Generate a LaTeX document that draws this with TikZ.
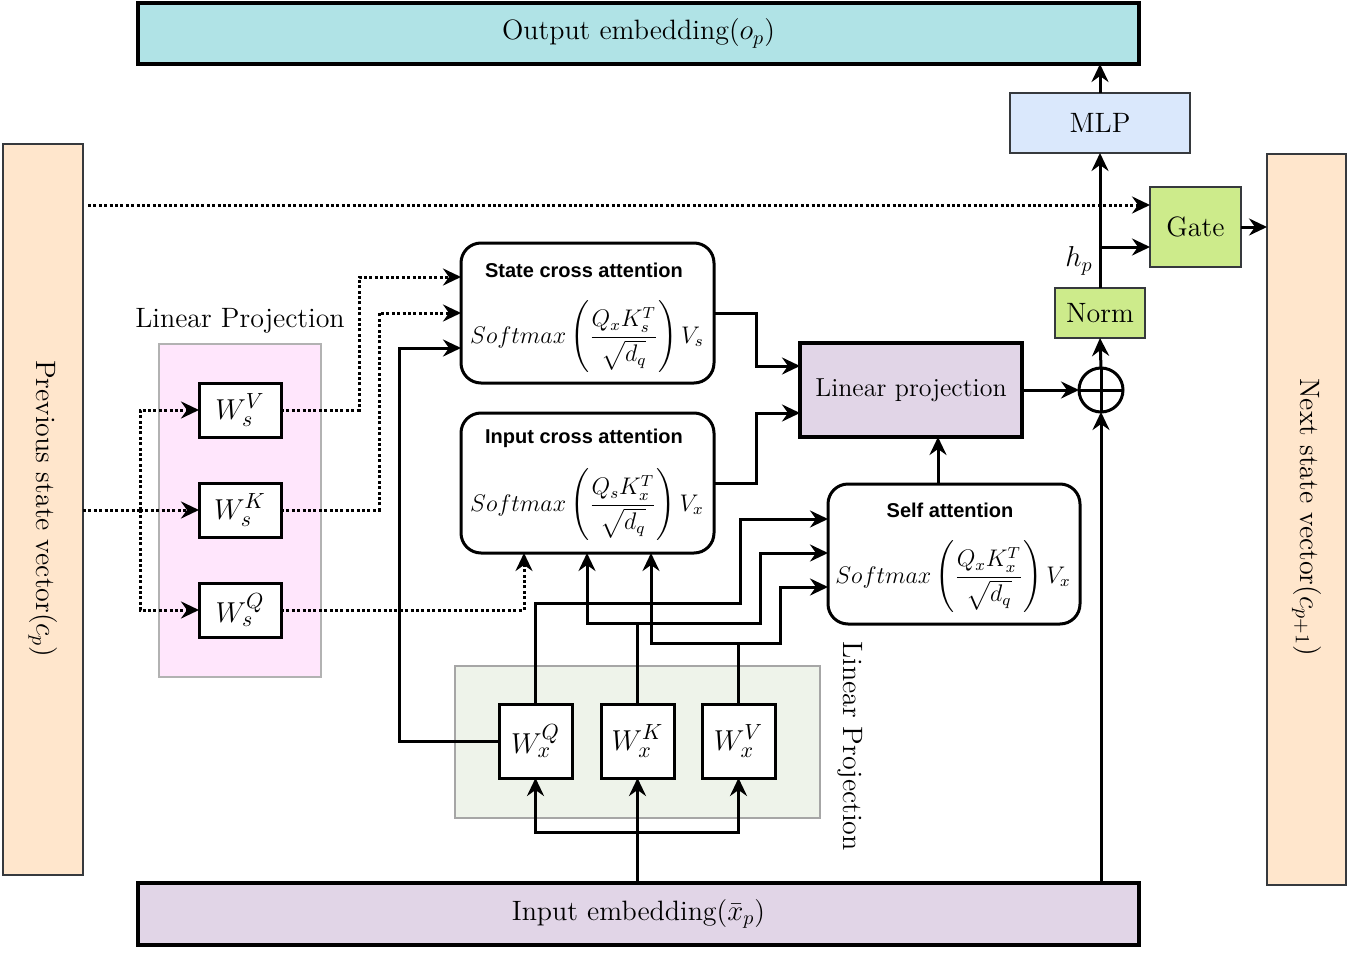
\documentclass[tikz,border=0pt]{standalone}
\usepackage{fontspec}
\usepackage{amsmath}
\newfontfamily\hfont{Liberation Sans}
\usetikzlibrary{arrows.meta,calc}
\definecolor{cyanc}{HTML}{B0E3E6}
\definecolor{bluec}{HTML}{DAE8FC}
\definecolor{peachc}{HTML}{FFE6CC}
\definecolor{greenc}{HTML}{CDEB8B}
\definecolor{purplec}{HTML}{E1D5E7}
\definecolor{pinkc}{HTML}{FFE6FC}
\definecolor{sagec}{HTML}{EEF3EA}
\definecolor{darkb}{HTML}{36393D}
\newcommand\szA{\fontsize{14}{17}\selectfont}
\newcommand\szB{\fontsize{12}{14}\selectfont}
\newcommand\szW{\fontsize{15}{18}\selectfont}
\newcommand\szT{\hfont\bfseries\fontsize{10}{12}\selectfont}
\begin{document}
\begin{tikzpicture}[x=0.5pt,y=-0.5pt,
  every node/.style={inner sep=0pt, outer sep=0pt},
  sqbox/.style={draw, line width=1.5pt, fill=white},
  rbox/.style={draw, line width=1.5pt, rounded corners=10pt, fill=white, minimum width=126.5pt, minimum height=70pt},
  arr/.style={line width=1.5pt, -{Stealth[length=9pt,width=8.5pt,inset=3pt]}},
  ln/.style={line width=1.5pt},
  dots/.style={arr, dash pattern=on 1.5pt off 1.2pt},
  dln/.style={line width=1.5pt, dash pattern=on 1.5pt off 1.2pt}]
\useasboundingbox (0,0) rectangle (1350,953);

% backgrounds
\node[draw=gray!60, line width=0.8pt, fill=pinkc, minimum width=81pt, minimum height=166.5pt] (pinkbg) at (240,510.5) {};
\node[draw=gray!70, line width=0.8pt, fill=sagec, minimum width=182.5pt, minimum height=76pt] (greenbg) at (637.5,742) {};

% big boxes
\node[draw, line width=2pt, fill=cyanc, minimum width=500.5pt, minimum height=30.5pt] (out) at (638.5,33.5) {\szA Output embedding($o_p$)};
\node[draw, line width=2pt, fill=purplec, minimum width=500.5pt, minimum height=31pt] (inp) at (638.5,914) {\szA Input embedding($\bar{x}_p$)};
\node[draw=darkb, line width=1.1pt, fill=peachc, minimum width=40pt, minimum height=365.5pt] (prev) at (43,509.5) {};
\node[rotate=-90] (prevtxt) at (43,509) {\szA Previous state vector($c_p$)};
\node[draw=darkb, line width=1.1pt, fill=peachc, minimum width=39.5pt, minimum height=365.5pt] (next) at (1306.5,519.5) {};
\node[rotate=-90] (nexttxt) at (1306.5,517) {\szA Next state vector($c_{p+1}$)};

\node[draw=darkb, line width=0.9pt, fill=bluec, minimum width=90pt, minimum height=30pt] (mlp) at (1100,123) {\szA MLP};
\node[draw=darkb, line width=1.3pt, fill=greenc, minimum width=45.5pt, minimum height=40pt] (gate) at (1195.5,227) {\szA Gate};
\node[draw=darkb, line width=1.3pt, fill=greenc, minimum width=45pt, minimum height=25pt] (norm) at (1100,313) {\szA Norm};
\node[draw, line width=1.6pt, fill=purplec, minimum width=111pt, minimum height=47pt] (lin) at (911,390) {\fontsize{13}{15}\selectfont Linear projection};
\node[draw, circle, line width=1.5pt, minimum size=22pt] (oplus) at (1101,390) {};
\draw[ln] (oplus.north) -- (oplus.south);
\draw[ln] (oplus.west) -- (oplus.east);

% attention boxes
\node[rbox] (sca) at (587.5,313) {};
\node (scat) at (584,270) {\szT State cross attention};
\node (scaf) at (587,337) {\szB $\displaystyle Softmax\left(\frac{Q_xK_s^T}{\sqrt{d_q}}\right)V_s$};
\node[rbox] (ica) at (587.5,483) {};
\node (icat) at (584,438) {\szT Input cross attention};
\node (icaf) at (587,505) {\szB $\displaystyle Softmax\left(\frac{Q_sK_x^T}{\sqrt{d_q}}\right)V_x$};
\node[rbox, minimum width=126pt] (sa) at (954,554) {};
\node (sat) at (950,510) {\szT Self attention};
\node (saf) at (953,577) {\szB $\displaystyle Softmax\left(\frac{Q_xK_x^T}{\sqrt{d_q}}\right)V_x$};

% projection boxes
\node[sqbox, minimum width=41pt, minimum height=27pt] (wsv) at (240,410) {\szW $W_s^V$};
\node[sqbox, minimum width=41pt, minimum height=27pt] (wsk) at (240,510) {\szW $W_s^K$};
\node[sqbox, minimum width=41pt, minimum height=27pt] (wsq) at (240,610) {\szW $W_s^Q$};
\node[sqbox, minimum width=36.5pt, minimum height=37pt] (wxq) at (535.5,741) {\szW $W_x^Q$};
\node[sqbox, minimum width=36.5pt, minimum height=37pt] (wxk) at (637.5,741) {\szW $W_x^K$};
\node[sqbox, minimum width=36.5pt, minimum height=37pt] (wxv) at (738.5,741) {\szW $W_x^V$};

\node (lpl) at (240,321) {\szA Linear Projection};
\node[rotate=-90] (lpr) at (850,746) {\szA Linear Projection};
\node (hplab) at (1079,261) {\szA $h_p$};

% coordinates
\coordinate (ydot) at (0,205);
\coordinate (hp) at (1100,247);
\coordinate (pv) at (140,510);
\coordinate (c524) at (524,0);
\coordinate (k1) at (587,623);
\coordinate (k2) at (760,623);
\coordinate (v1) at (651,643);
\coordinate (v2) at (780,643);
\coordinate (q1) at (740,603);
\coordinate (saout) at (938,0);
\coordinate (split) at (637.5,832);

% right column
\draw[arr] (mlp.north) -- (mlp.north |- out.south);
\draw[arr] (norm.north) -- (mlp.south);
\draw[arr] (hp) -- (hp -| gate.west);
\draw[dots] ($(prev.east |- ydot)+(5,0)$) -- (gate.west |- ydot);
\draw[arr] (gate.east) -- (gate.east -| next.west);
\draw[arr] (lin.east) -- (oplus.west);
\draw[arr] (oplus.north) -- (norm.south);
\draw[arr] (inp.north -| oplus) -- (oplus.south);
\draw[arr] (sa.north -| saout) -- (lin.south -| saout);
\draw[arr] (sca.east) -- ++(42,0) |- ($(lin.west)+(0,-24)$);
\draw[arr] (ica.east) -- ++(42,0) |- ($(lin.west)+(0,23)$);

% state projections
\draw[dln] (prev.east |- pv) -- (pv);
\draw[dots] (pv) |- (wsv.west);
\draw[dots] (pv) -- (wsk.west);
\draw[dots] (pv) |- (wsq.west);
\draw[dots] (wsv.east) -- (359,410) |- ($(sca.west)+(0,-36)$);
\draw[dots] (wsk.east) -- (379,510) |- (sca.west);
\draw[dots] (wsq.east) -| (ica.south -| c524);
\draw[arr] (wxq.west) -- (399,741) |- ($(sca.west)+(0,35)$);

% input projections
\draw[arr] (wxq.north) |- (q1) |- ($(sa.west)+(0,-35)$);
\draw[arr] (wxk.north) |- (k1) -- (ica.south -| k1);
\draw[arr] (wxk.north) |- (k2) |- ($(sa.west)+(0,-1)$);
\draw[arr] (wxv.north) |- (v1) -- (ica.south -| v1);
\draw[arr] (wxv.north) |- (v2) |- ($(sa.west)+(0,33)$);
\draw[arr] (inp.north -| split) -- (wxk.south);
\draw[arr] (split) -| (wxq.south);
\draw[arr] (split) -| (wxv.south);
\end{tikzpicture}
\end{document}
